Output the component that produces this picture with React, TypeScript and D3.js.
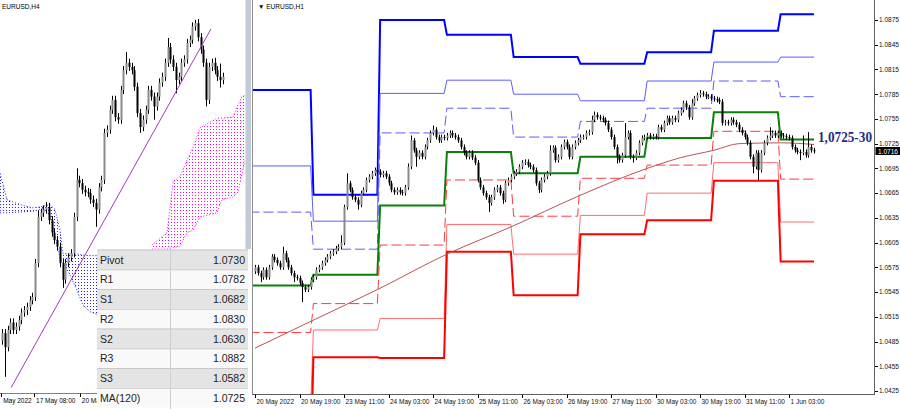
import React from 'react';
import * as d3 from 'd3';

// ---------- MAIN (EURUSD H1) DATA ----------
const mainFirstOpen = 1.057;
const mainCloses = [
  1.0575, 1.0568, 1.0563, 1.0572, 1.0563, 1.0575, 1.0588, 1.0584, 1.058, 1.0575,
  1.0592, 1.0584, 1.0575, 1.0568, 1.0563, 1.0562, 1.0556, 1.0551, 1.0548, 1.0551,
  1.056, 1.0563, 1.0572, 1.0575, 1.058, 1.0584, 1.0588, 1.0592, 1.0594, 1.0598,
  1.06, 1.0605, 1.0648, 1.0677, 1.0669, 1.066, 1.0657, 1.0651, 1.0665, 1.0669,
  1.0681, 1.0685, 1.0689, 1.0693, 1.0691, 1.0687, 1.0689, 1.0685, 1.0677, 1.0669,
  1.0666, 1.0669, 1.0666, 1.0665, 1.0672, 1.0697, 1.0729, 1.0717, 1.0709, 1.0714,
  1.0709, 1.0721, 1.0729, 1.0738, 1.0742, 1.0733, 1.0729, 1.0733, 1.0732, 1.0735,
  1.0738, 1.0735, 1.0733, 1.0729, 1.0721, 1.0714, 1.0709, 1.0714, 1.0708, 1.0702,
  1.0681, 1.0672, 1.0665, 1.066, 1.0653, 1.066, 1.0669, 1.0672, 1.0665, 1.0657,
  1.0677, 1.0681, 1.0685, 1.0689, 1.0691, 1.0697, 1.0702, 1.0703, 1.0699, 1.0697,
  1.0693, 1.0677, 1.0669, 1.0681, 1.0685, 1.0689, 1.0717, 1.072, 1.0705, 1.0709,
  1.0721, 1.0727, 1.0721, 1.0709, 1.0721, 1.0726, 1.0729, 1.0733, 1.0733, 1.0738,
  1.0739, 1.0754, 1.076, 1.0757, 1.0756, 1.0754, 1.075, 1.0742, 1.0733, 1.0721,
  1.0709, 1.0705, 1.0711, 1.0733, 1.0738, 1.0709, 1.0708, 1.0714, 1.0726, 1.0732,
  1.0733, 1.0735, 1.0733, 1.0734, 1.0733, 1.0745, 1.0742, 1.075, 1.0756, 1.0751,
  1.0756, 1.0754, 1.0762, 1.0766, 1.0774, 1.0769, 1.0757, 1.0774, 1.078, 1.0784,
  1.0786, 1.0785, 1.0782, 1.0782, 1.078, 1.0779, 1.0778, 1.0776, 1.075, 1.0751,
  1.075, 1.0754, 1.0751, 1.0748, 1.0742, 1.0738, 1.0733, 1.0726, 1.0709, 1.0697,
  1.0714, 1.0693, 1.0714, 1.0726, 1.0732, 1.0735, 1.0738, 1.0735, 1.0738, 1.0735,
  1.0734, 1.0733, 1.0732, 1.0721, 1.0717, 1.0715, 1.0714, 1.0715, 1.0711, 1.0721,
  1.0717, 1.0716,
];
// notable wicks in pips: [bar, pips]
const mainWickUp: [number, number][] = [
  [10, 8], [31, 9], [33, 12], [55, 4], [56, 6], [64, 5], [106, 6], [121, 5], [122, 4],
  [133, 17], [157, 5], [160, 4], [185, 10], [197, 20], [199, 18],
];
const mainWickDn: [number, number][] = [
  [2, 6], [14, 6], [17, 18], [37, 6], [58, 12], [84, 11], [89, 5], [102, 4], [130, 8],
  [136, 6], [179, 8], [181, 12], [196, 9],
];
const mainDefaultWick = 3;

// daily pivot levels (first bar index of each day)
const dayStarts = [-2, 21, 45, 69, 93, 117, 141, 165, 189];
const lastBar = 201;
const levelR3 = [1.079, 1.0663, 1.0875, 1.0857, 1.083, 1.0822, 1.0836, 1.0862, 1.0882];
const levelR2 = [1.0698, 1.0631, 1.0786, 1.0802, 1.0785, 1.0777, 1.0801, 1.0824, 1.083];
const levelR1 = [1.0642, 1.0597, 1.0738, 1.0768, 1.0733, 1.0752, 1.0768, 1.0801, 1.0782];
const levelP = [1.0553, 1.0566, 1.065, 1.0715, 1.0689, 1.0709, 1.0732, 1.0763, 1.073];
const levelS1 = [1.0496, 1.0531, 1.0602, 1.0681, 1.0637, 1.0683, 1.0699, 1.074, 1.0682];
const levelS2 = [1.0405, 1.0499, 1.0513, 1.0627, 1.0591, 1.0638, 1.0665, 1.0702, 1.063];
const levelS3 = [1.033, 1.0466, 1.0465, 1.0594, 1.0541, 1.0615, 1.0632, 1.068, 1.0582];

// MA(120) read points [bar, price]
const maPoints: [number, number][] = [
  [0, 1.0477], [21, 1.0511], [44, 1.0548], [69, 1.0591], [92, 1.0624], [116, 1.0661],
  [141, 1.0695], [153, 1.0708], [165, 1.0717], [174, 1.0725], [189, 1.0726], [201, 1.0724],
];

const yTicks = [1.0875, 1.0845, 1.0815, 1.0785, 1.0755, 1.0725, 1.0695, 1.0665, 1.0635, 1.0605, 1.0575, 1.0545, 1.0515, 1.0485, 1.0455, 1.0425];
const xTickBars = [0, 16, 32, 48, 64, 80, 96, 112, 128, 144, 160, 176, 192];
const xTickLabels = [
  '20 May 2022', '20 May 19:00', '23 May 11:00', '24 May 03:00', '24 May 19:00', '25 May 11:00',
  '26 May 03:00', '26 May 19:00', '27 May 11:00', '30 May 03:00', '30 May 19:00', '31 May 11:00', '1 Jun 03:00',
];
const currentPrice = '1.0716';
const annotation = '1,0725-30';

// ---------- LEFT (EURUSD H4) DATA ----------
const leftFirstOpen = 1.04;
const leftCloses = [
  1.0409, 1.0392, 1.0413, 1.0422, 1.0413, 1.0417, 1.0425, 1.0434, 1.0437, 1.0441,
  1.0449, 1.0453, 1.0494, 1.055, 1.0555, 1.0559, 1.0562, 1.0546, 1.0531, 1.0522,
  1.0514, 1.0494, 1.0474, 1.0494, 1.0501, 1.0506, 1.055, 1.0595, 1.0591, 1.0583,
  1.058, 1.0579, 1.0571, 1.0567, 1.0559, 1.0586, 1.0595, 1.0652, 1.0656, 1.068,
  1.0692, 1.0671, 1.0668, 1.0704, 1.0728, 1.0737, 1.0732, 1.0728, 1.0708, 1.0676,
  1.0659, 1.0668, 1.068, 1.0704, 1.0696, 1.0684, 1.0696, 1.0713, 1.072, 1.0737,
  1.0756, 1.0741, 1.0732, 1.0716, 1.072, 1.0737, 1.0741, 1.0761, 1.0765, 1.0781,
  1.0785, 1.0768, 1.0753, 1.0737, 1.0692, 1.0732, 1.0737, 1.0728, 1.072, 1.0716,
  1.072,
];
const leftWickUp: [number, number][] = [[12, 5], [13, 8], [16, 6], [27, 14], [45, 13], [60, 11], [70, 4], [77, 6], [79, 16]];
const leftWickDn: [number, number][] = [[1, 36], [9, 6], [22, 10], [34, 21], [50, 7], [55, 16], [63, 16], [74, 8], [79, 9]];
const leftDefaultWick = 5;
const leftTrend: [number, number][] = [[3.3, 1.0343], [75.7, 1.0778]];
// Ichimoku cloud [bar, top, bottom]
const blueCloud: [number, number, number][] = [
  [-0.7, 1.0603, 1.0555], [1.8, 1.0571, 1.0555], [6.5, 1.0565, 1.0556], [11.2, 1.0561, 1.0557],
  [14.9, 1.0563, 1.056], [17.4, 1.0565, 1.0552], [19.2, 1.0559, 1.0528], [21, 1.0534, 1.05],
  [22.1, 1.0506, 1.0495], [24.6, 1.0505, 1.048], [27.2, 1.0505, 1.0461], [29.3, 1.0504, 1.0443],
  [31.9, 1.0503, 1.0435], [34.4, 1.0503, 1.0432], [40, 1.05, 1.0425],
];
const magentaCloud: [number, number, number][] = [
  [54.3, 1.0516, 1.0511], [59.8, 1.0531, 1.0511], [62, 1.0593, 1.0513], [64.5, 1.0599, 1.0514],
  [67, 1.0619, 1.0531], [69.2, 1.0634, 1.0534], [71.7, 1.0658, 1.055], [77.9, 1.067, 1.0555],
  [79.7, 1.067, 1.0571], [83.7, 1.0671, 1.0574], [85.5, 1.0686, 1.058], [87, 1.0696, 1.0603],
  [88.4, 1.0698, 1.0623],
];
const leftXLabels = ['May 2022', '17 May 08:00', '20 Ma'];
const leftXLabelBars = [-0.3, 11.6, 28.2];

const tableLabels = ['Pivot', 'R1', 'S1', 'R2', 'S2', 'R3', 'S3', 'MA(120)'];
const tableValues = ['1.0730', '1.0782', '1.0682', '1.0830', '1.0630', '1.0882', '1.0582', '1.0725'];

const FONT = 'Liberation Sans, Arial, sans-serif';

function renderCandles(
  closes: number[], firstOpen: number, up: [number, number][], dn: [number, number][],
  defWick: number, xs: (v: number) => number, ys: (v: number) => number, key: string,
) {
  const upM = new Map(up);
  const dnM = new Map(dn);
  return closes.map((c, i) => {
    const o = i === 0 ? firstOpen : closes[i - 1];
    const hi = Math.max(o, c) + (upM.get(i) ?? defWick) / 10000;
    const lo = Math.min(o, c) - (dnM.get(i) ?? defWick) / 10000;
    const rx = Math.round(xs(i));
    const yT = ys(Math.max(o, c));
    const yB = ys(Math.min(o, c));
    const bull = c >= o;
    return (
      <g key={key + i}>
        <line x1={rx + 0.5} x2={rx + 0.5} y1={ys(hi)} y2={ys(lo)} stroke="#000" strokeWidth={1} />
        <rect x={rx - 0.5} width={2} y={yT} height={Math.max(1, yB - yT)} fill={bull ? '#8a8a8a' : '#000'} />
      </g>
    );
  });
}

export default function App() {
  const xs = d3.scaleLinear().domain([0, 192]).range([255, 789]);
  const ys = d3.scaleLinear().domain([1.0425, 1.0875]).range([391, 20]);
  const lx = d3.scaleLinear().domain([0, 80]).range([2, 222.8]);
  const ly = d3.scaleLinear().domain([1.0425, 1.0875]).range([320, -51]);

  const levelLine = d3.line<[number, number]>().x((d) => xs(d[0])).y((d) => ys(d[1]));
  const levelPath = (vals: number[]) => {
    const pts: [number, number][] = [];
    vals.forEach((v, d) => {
      const end = d < dayStarts.length - 1 ? dayStarts[d + 1] - 1 : lastBar;
      pts.push([dayStarts[d], v], [end, v]);
    });
    return levelLine(pts) || '';
  };
  const levelDefs = [
    { vals: levelR3, color: '#0000ff', w: 2, dash: undefined },
    { vals: levelR2, color: '#5c5cff', w: 1, dash: undefined },
    { vals: levelR1, color: '#5c5cff', w: 1, dash: '10,4' },
    { vals: levelP, color: '#0a800a', w: 2, dash: undefined },
    { vals: levelS1, color: '#ff3a3a', w: 1, dash: '10,4' },
    { vals: levelS2, color: '#ff6e6e', w: 1, dash: undefined },
    { vals: levelS3, color: '#ff0000', w: 2, dash: undefined },
  ];
  const maPath = d3.line<[number, number]>().x((d) => xs(d[0])).y((d) => ys(d[1])).curve(d3.curveMonotoneX)(maPoints) || '';

  const cloudArea = d3.area<[number, number, number]>().x((d) => lx(d[0])).y0((d) => ly(d[2])).y1((d) => ly(d[1]));
  const cloudTop = d3.line<[number, number, number]>().x((d) => lx(d[0])).y((d) => ly(d[1]));
  const cloudBot = d3.line<[number, number, number]>().x((d) => lx(d[0])).y((d) => ly(d[2]));
  const trendPath = d3.line<[number, number]>().x((d) => lx(d[0])).y((d) => ly(d[1]))(leftTrend) || '';

  const rowH = 19.75;
  const tableTop = 249.5;

  return (
    <div style={{ position: 'fixed', left: 0, top: 0, width: 900, height: 409, background: '#fff' }}>
      <svg width={900} height={409} style={{ display: 'block' }} fontFamily={FONT}>
        <defs>
          <clipPath id="mainClip"><rect x={253} y={0} width={622} height={394} /></clipPath>
          <clipPath id="leftClip"><rect x={0} y={0} width={245} height={393} /></clipPath>
          <pattern id="dotsBlue" width={3} height={3} patternUnits="userSpaceOnUse">
            <rect width={1} height={1} fill="#2020ff" />
          </pattern>
          <pattern id="dotsMag" width={3} height={3} patternUnits="userSpaceOnUse">
            <rect width={1} height={1} fill="#ff00ff" />
          </pattern>
        </defs>
        <rect x={0} y={0} width={900} height={409} fill="#fff" />

        {/* ---------- LEFT PANEL ---------- */}
        <g clipPath="url(#leftClip)">
          <path d={cloudArea(blueCloud) || ''} fill="url(#dotsBlue)" />
          <path d={cloudTop(blueCloud) || ''} fill="none" stroke="#2020ff" strokeWidth={1} strokeDasharray="1,2" />
          <path d={cloudBot(blueCloud) || ''} fill="none" stroke="#2020ff" strokeWidth={1} strokeDasharray="1,2" />
          <path d={cloudArea(magentaCloud) || ''} fill="url(#dotsMag)" />
          <path d={cloudTop(magentaCloud) || ''} fill="none" stroke="#ff00ff" strokeWidth={1} strokeDasharray="1,2" />
          <path d={cloudBot(magentaCloud) || ''} fill="none" stroke="#ff00ff" strokeWidth={1} strokeDasharray="1,2" />
          {renderCandles(leftCloses, leftFirstOpen, leftWickUp, leftWickDn, leftDefaultWick, lx, ly, 'l')}
          <path d={trendPath} fill="none" stroke="#a03cb4" strokeWidth={1} />
        </g>
        <text x={2} y={9} fontSize={6.5} fill="#000">EURUSD,H4</text>
        <line x1={0} x2={245} y1={393.5} y2={393.5} stroke="#808080" strokeWidth={1} />
        {leftXLabelBars.map((b, i) => (
          <g key={'lxl' + i}>
            <line x1={Math.round(lx(b)) + 0.5} x2={Math.round(lx(b)) + 0.5} y1={393.5} y2={397} stroke="#000" />
            <text x={lx(b) + 2} y={403} fontSize={6.5} fill="#000">{leftXLabels[i]}</text>
          </g>
        ))}
        <rect x={245.5} y={0} width={5.5} height={249} fill="#c2cad7" />

        {/* table */}
        {tableLabels.map((lab, i) => (
          <g key={'tr' + i}>
            <rect x={97} y={tableTop + i * rowH} width={151} height={rowH} fill={i % 2 === 0 ? '#e4e4e4' : '#f9f9f9'} />
            <line x1={97} x2={248} y1={tableTop + i * rowH + 0.5} y2={tableTop + i * rowH + 0.5} stroke="#c8c8c8" />
            <text x={100} y={tableTop + i * rowH + 14} fontSize={10.5} fill="#222">{lab}</text>
            <text x={245} y={tableTop + i * rowH + 14} fontSize={10.5} fill="#222" textAnchor="end">{tableValues[i]}</text>
          </g>
        ))}
        <line x1={170.5} x2={170.5} y1={tableTop} y2={409} stroke="#cfcfcf" />

        {/* ---------- MAIN PANEL ---------- */}
        <g clipPath="url(#mainClip)">
          {levelDefs.map((l, i) => (
            <path key={'lv' + i} d={levelPath(l.vals)} fill="none" stroke={l.color} strokeWidth={l.w} strokeDasharray={l.dash} />
          ))}
          <path d={maPath} fill="none" stroke="#b85454" strokeWidth={1} />
          {renderCandles(mainCloses, mainFirstOpen, mainWickUp, mainWickDn, mainDefaultWick, xs, ys, 'm')}
        </g>
        <line x1={252.5} x2={252.5} y1={0} y2={394} stroke="#8c8c8c" />
        <line x1={252} x2={875} y1={394.5} y2={394.5} stroke="#606060" />
        <line x1={874.5} x2={874.5} y1={0} y2={395} stroke="#606060" />
        <text x={258} y={9} fontSize={6.5} fill="#000">▼ EURUSD,H1</text>

        {yTicks.map((t, i) => (
          <g key={'yt' + i}>
            <line x1={875} x2={878} y1={Math.round(ys(t)) + 0.5} y2={Math.round(ys(t)) + 0.5} stroke="#000" />
            <text x={879} y={ys(t) + 2.3} fontSize={6.5} fill="#111">{t.toFixed(4)}</text>
          </g>
        ))}
        {xTickBars.map((b, i) => (
          <g key={'xt' + i}>
            <line x1={Math.round(xs(b)) + 0.5} x2={Math.round(xs(b)) + 0.5} y1={394.5} y2={398} stroke="#000" />
            <text x={xs(b) + 1.5} y={403.5} fontSize={6.5} fill="#111">{xTickLabels[i]}</text>
          </g>
        ))}

        <rect x={875.5} y={147} width={24.5} height={8} fill="#000" />
        <text x={878} y={153.5} fontSize={6.5} fill="#fff">{currentPrice}</text>

        <text x={818} y={141.5} fontSize={14} fontWeight="bold" fontFamily="Liberation Serif, Times New Roman, serif"
          fill="#1f2a86" textLength={54} lengthAdjust="spacingAndGlyphs">{annotation}</text>
      </svg>
    </div>
  );
}
